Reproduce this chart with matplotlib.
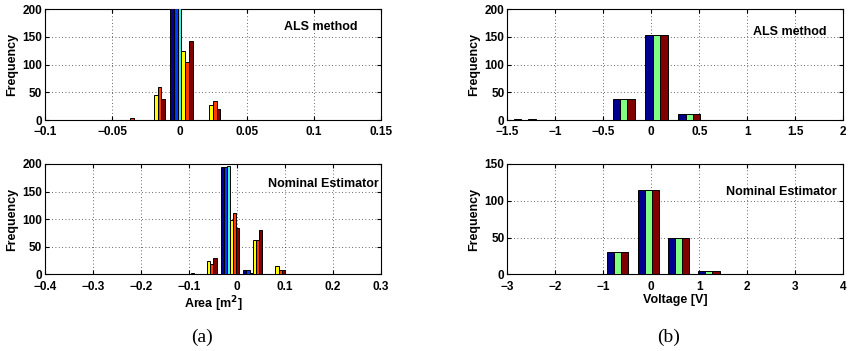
import matplotlib.pyplot as plt
import numpy as np

plt.rcParams["font.family"] = ["Liberation Sans", "DejaVu Sans"]

# --- (a) area errors, 6 series each, 10 hist bins ---
als_area_bins = [-0.0805, -0.060, -0.0395, -0.019, 0.0015, 0.022, 0.0425, 0.063, 0.0835, 0.104]
als_area_counts = [
    [0, 0, 0, 0, 230, 0, 0, 0, 0, 0],
    [0, 0, 0, 0, 225, 0, 0, 0, 0, 0],
    [0, 0, 0, 0, 215, 0, 0, 0, 0, 0],
    [0, 0, 0, 45, 125, 28, 0, 0, 0, 0],
    [0, 0, 3, 59, 105, 34, 0, 0, 0, 0],
    [0, 0, 0, 38, 143, 19, 0, 0, 0, 0],
]
nom_area_bins = [-0.204, -0.156, -0.109, -0.062, -0.0146, 0.0327, 0.080, 0.127, 0.174, 0.222]
nom_area_counts = [
    [0, 0, 0, 0, 194, 8, 0, 0, 0, 0],
    [0, 0, 0, 0, 194, 8, 0, 0, 0, 0],
    [0, 0, 0, 0, 197, 2, 0, 0, 0, 0],
    [0, 0, 1, 24, 98, 62, 15, 0, 0, 0],
    [0, 0, 0, 18, 111, 62, 8, 0, 0, 1],
    [1, 0, 2, 30, 84, 80, 7, 0, 0, 0],
]

# --- (b) voltage errors, 3 series ---
als_volt_bins = [-1.318, -0.975, -0.632, -0.287, 0.054, 0.397, 0.740, 1.083, 1.426, 1.769]
als_volt_counts = [
    [1, 0, 0, 38, 153, 10, 0, 0, 0, 0],
    [0, 0, 0, 38, 153, 10, 0, 0, 0, 0],
    [1, 0, 0, 38, 153, 10, 0, 0, 0, 0],
]
nom_volt_bins = [-2.59, -1.96, -1.33, -0.698, -0.0625, 0.57, 1.20, 1.83, 2.47, 3.10]
nom_volt_counts = [
    [1, 0, 0, 31, 114, 49, 4, 0, 0, 1],
    [1, 0, 0, 31, 114, 49, 4, 0, 0, 1],
    [1, 0, 0, 31, 114, 49, 4, 0, 0, 1],
]

colors6 = ["#00008c", "#0038ff", "#3ef2dc", "#ffff00", "#ff3800", "#800000"]
colors3 = ["#00008f", "#80ff80", "#800000"]

tl_xticks = [-0.1, -0.05, 0, 0.05, 0.1, 0.15]
tl_xlabels = ["\u22120.1", "\u22120.05", "0", "0.05", "0.1", "0.15"]
bl_xticks = [-0.4, -0.3, -0.2, -0.1, 0, 0.1, 0.2, 0.3]
bl_xlabels = ["\u22120.4", "\u22120.3", "\u22120.2", "\u22120.1", "0", "0.1", "0.2", "0.3"]
tr_xticks = [-1.5, -1, -0.5, 0, 0.5, 1, 1.5, 2]
tr_xlabels = ["\u22121.5", "\u22121", "\u22120.5", "0", "0.5", "1", "1.5", "2"]
br_xticks = [-3, -2, -1, 0, 1, 2, 3, 4]
br_xlabels = ["\u22123", "\u22122", "\u22121", "0", "1", "2", "3", "4"]


def grouped(ax, bins, counts, colors, width):
    n = len(counts)
    bins = np.array(bins)
    for i, (c, col) in enumerate(zip(counts, colors)):
        ax.bar(bins + (i - (n - 1) / 2) * width, c, width=width, color=col,
               edgecolor="black", linewidth=0.7, zorder=3)


def style(ax, xlim, ylim, xticks, xlabels, yticks):
    ax.set_xlim(xlim)
    ax.set_ylim(ylim)
    ax.set_xticks(xticks)
    ax.set_xticklabels(xlabels)
    ax.set_yticks(yticks)
    ax.grid(True, linestyle=(0, (1, 3)), color="black", linewidth=0.6, alpha=0.8)
    ax.tick_params(direction="in", top=True, right=True, length=3, labelsize=8.5)
    ax.tick_params(axis="x", pad=4.5)
    ax.tick_params(axis="y", pad=2)
    for t in ax.get_xticklabels() + ax.get_yticklabels():
        t.set_fontweight("bold")
    ax.set_ylabel("Frequency", fontsize=9, fontweight="bold", labelpad=3)
    for s in ax.spines.values():
        s.set_linewidth(0.8)


fig = plt.figure(figsize=(8.48, 3.51), dpi=100)
ax_tl = fig.add_axes([0.0531, 0.6581, 0.3962, 0.3154])
ax_bl = fig.add_axes([0.0531, 0.2185, 0.3962, 0.3143])
ax_tr = fig.add_axes([0.5982, 0.6581, 0.3962, 0.3154])
ax_br = fig.add_axes([0.5982, 0.2185, 0.3962, 0.3143])

grouped(ax_tl, als_area_bins, als_area_counts, colors6, 0.0028)
style(ax_tl, (-0.1, 0.15), (0, 200), tl_xticks, tl_xlabels, [0, 50, 100, 150, 200])
ax_tl.text(0.929, 0.84, "ALS method", transform=ax_tl.transAxes, ha="right", va="center",
           fontsize=9, fontweight="bold")

grouped(ax_bl, nom_area_bins, nom_area_counts, colors6, 0.0065)
style(ax_bl, (-0.4, 0.3), (0, 200), bl_xticks, bl_xlabels, [0, 50, 100, 150, 200])
ax_bl.text(0.994, 0.82, "Nominal Estimator", transform=ax_bl.transAxes, ha="right", va="center",
           fontsize=9, fontweight="bold")
ax_bl.set_xlabel("Area [m$^\\mathbf{2}$]", fontsize=9, fontweight="bold", labelpad=1)

grouped(ax_tr, als_volt_bins, als_volt_counts, colors3, 0.077)
style(ax_tr, (-1.5, 2), (0, 200), tr_xticks, tr_xlabels, [0, 50, 100, 150, 200])
ax_tr.text(0.949, 0.795, "ALS method", transform=ax_tr.transAxes, ha="right", va="center",
           fontsize=9, fontweight="bold")

grouped(ax_br, nom_volt_bins, nom_volt_counts, colors3, 0.148)
style(ax_br, (-3, 4), (0, 150), br_xticks, br_xlabels, [0, 50, 100, 150])
ax_br.text(0.982, 0.746, "Nominal Estimator", transform=ax_br.transAxes, ha="right", va="center",
           fontsize=9, fontweight="bold")
ax_br.set_xlabel("Voltage [V]", fontsize=9, fontweight="bold", labelpad=1)

fig.text(202 / 848, 1 - 337 / 351, "(a)", ha="center", va="center", fontsize=14,
         family="Liberation Serif")
fig.text(669 / 848, 1 - 337 / 351, "(b)", ha="center", va="center", fontsize=14,
         family="Liberation Serif")

fig.savefig("out.png", dpi=100)
